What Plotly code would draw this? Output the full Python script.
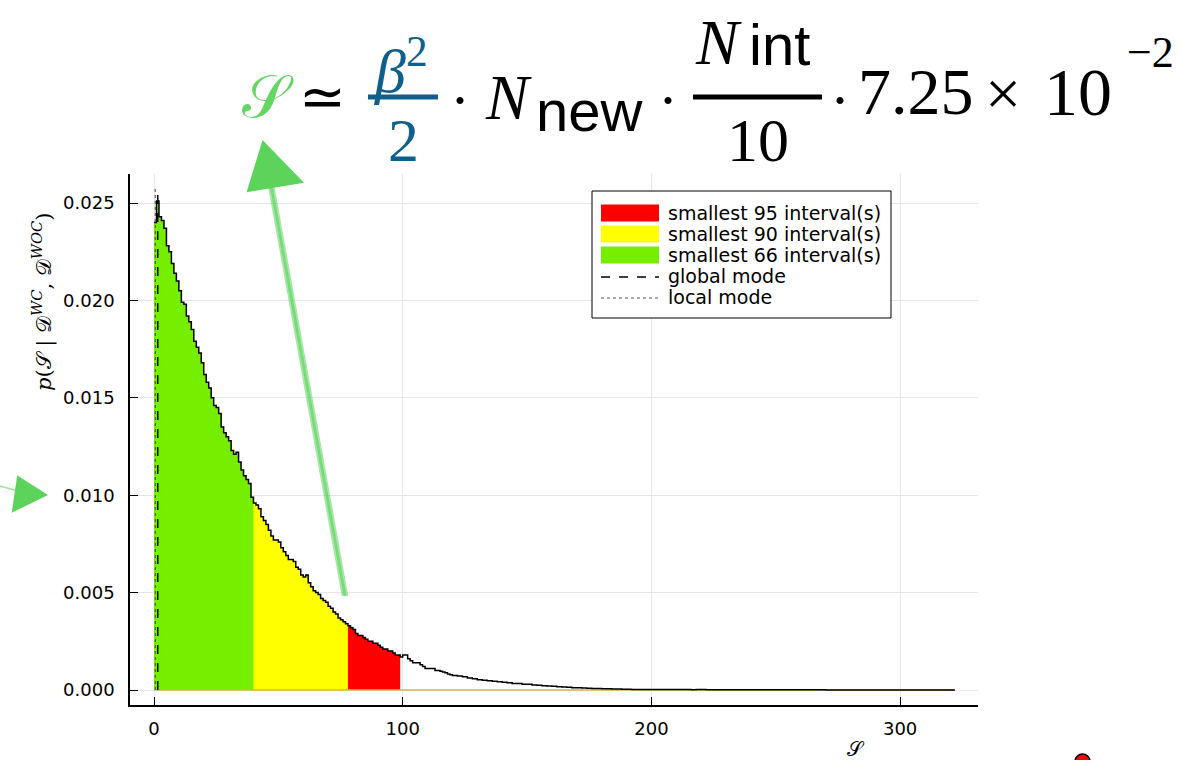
import numpy as np
import plotly.graph_objects as go

# Posterior density of S, histogram heights
# unit-width bins on [0, 120)
density_fine = [
    0.0240, 0.0251, 0.0243, 0.0241, 0.0237, 0.0228, 0.0225, 0.0219, 0.0214, 0.0210,
    0.0205, 0.0199, 0.0198, 0.0192, 0.0189, 0.0185, 0.0179, 0.0176, 0.0173, 0.0168,
    0.0162, 0.0158, 0.0155, 0.0150, 0.0146, 0.0145, 0.0142, 0.0135, 0.0132, 0.0130,
    0.0128, 0.0123, 0.0121, 0.0122, 0.0117, 0.0113, 0.0110, 0.0108, 0.0106, 0.0099,
    0.0096, 0.0095, 0.0093, 0.0089, 0.0087, 0.0085, 0.0082, 0.0079, 0.0077, 0.0077,
    0.0076, 0.0073, 0.0071, 0.0069, 0.0067, 0.0067, 0.0066, 0.0063, 0.0062, 0.0059,
    0.0058, 0.0059, 0.0055, 0.0053, 0.0051, 0.0050, 0.0049, 0.0047, 0.0046, 0.0045,
    0.0043, 0.0042, 0.0040, 0.0039, 0.0037, 0.0036, 0.0035, 0.0034, 0.0033, 0.0032,
    0.0031, 0.0029, 0.0028, 0.0028, 0.0027, 0.0026, 0.0025, 0.0025, 0.0024, 0.0024,
    0.0023, 0.0022, 0.0021, 0.0021, 0.0020, 0.0020, 0.0019, 0.0018, 0.0018, 0.0017,
    0.0018, 0.0018, 0.0016, 0.0015, 0.0014, 0.0014, 0.0014, 0.0013, 0.0012, 0.0011,
    0.0011, 0.0011, 0.0011, 0.0010, 0.0010, 0.00096, 0.00092, 0.00088, 0.00082, 0.00078,
]
# width-2 bins on [120, 322)
density_coarse = [
    0.00075, 0.00072, 0.00068, 0.00062, 0.00058, 0.00053, 0.00050, 0.00047, 0.00045, 0.00042,
    0.00040, 0.00037, 0.00034, 0.00033, 0.00030, 0.00029, 0.00026, 0.00025, 0.00022, 0.00020,
    0.00019, 0.00017, 0.00015, 0.00014, 0.00012, 0.00011, 0.00010, 0.00009, 0.00008, 0.00008,
    0.00007, 0.00006, 0.00005, 0.00005, 0.00004, 0.00004, 0.00003, 0.00003, 0.00003, 0.00002,
    0.00002, 0.00002, 0.00002, 0.00002, 0.00002, 0.00002, 0.00002, 0.00002, 0.00001, 0.00002,
    0.00002, 0.00001, 0.00001, 0.00001, 0.00001, 0.00001, 0.00001, 0.00001, 0.00001, 0.00001,
    0.00001, 0.00001, 0.00001, 0.00001, 0.00001, 0.00001, 0.00001, 0.00001, 0.00001, 0.00001,
    0.00001, 0.00001, 0.00001, 0.00001, 0.00001, 0.000005, 0.000005, 0.000005, 0.000005, 0.000005,
    0.000005, 0.000005, 0.000005, 0.000005, 0.000005, 0.000005, 0.000005, 0.000005, 0.000005, 0.000005,
    0.000005, 0.000005, 0.000005, 0.000005, 0.000005, 0.000005, 0.000005, 0.000005, 0.000005, 0.000005,
    0.000005,
]

# smallest credible intervals (upper bounds, lower bound is 0)
interval_labels = ["smallest 95 interval(s)", "smallest 90 interval(s)", "smallest 66 interval(s)"]
interval_upper = [99, 78, 40]
interval_colors = ["#FF0000", "#FFFF00", "#76EE00"]

global_mode = 1.5
local_mode = 0.5
mode_top = 0.0258

x_ticks = [0, 100, 200, 300]
y_ticks = [0.0, 0.005, 0.010, 0.015, 0.020, 0.025]

edges = np.concatenate([np.arange(0, 121, 1.0), np.arange(122, 323, 2.0)])
heights = np.array(density_fine + density_coarse)


def step_xy(lo, hi):
    keep = (edges[:-1] >= lo) & (edges[1:] <= hi)
    idx = np.where(keep)[0]
    xs = list(edges[idx]) + [edges[idx[-1] + 1]]
    ys = list(heights[idx]) + [heights[idx[-1]]]
    return xs, ys


fig = go.Figure()

for upper, col in zip(interval_upper, interval_colors):
    xs, ys = step_xy(0, upper)
    fig.add_trace(go.Scatter(x=xs, y=ys, mode="lines", line=dict(width=0, shape="hv"),
                             fill="tozeroy", fillcolor=col, showlegend=False, hoverinfo="skip"))

fig.add_trace(go.Scatter(x=[edges[0], edges[-1]], y=[0, 0], mode="lines",
                         line=dict(color="#d9b648", width=1.5), showlegend=False, hoverinfo="skip"))

xs, ys = step_xy(0, edges[-1])
fig.add_trace(go.Scatter(x=xs, y=ys, mode="lines", line=dict(color="black", width=1.5, shape="hv"),
                         showlegend=False))

fig.add_trace(go.Scatter(x=[global_mode, global_mode], y=[0, mode_top], mode="lines",
                         line=dict(color="black", width=1.5, dash="dash"), showlegend=False))
fig.add_trace(go.Scatter(x=[local_mode, local_mode], y=[0, mode_top], mode="lines",
                         line=dict(color="#444444", width=1, dash="dot"), showlegend=False))

# plot area in pixels
L, R, T, B = 130, 978, 174, 705
W, H = 1181, 760


def fx(p):
    return (p - L) / (R - L)


def fy(p):
    return (B - p) / (B - T)


shapes = []
annotations = []

# legend box
shapes.append(dict(type="rect", xref="paper", yref="paper", x0=fx(592), x1=fx(891), y0=fy(318), y1=fy(191),
                   line=dict(color="black", width=1), fillcolor="white", layer="above"))
legend_rows = [213, 234, 255, 276, 297]
for row, lab, col in zip(legend_rows, interval_labels, interval_colors):
    shapes.append(dict(type="rect", xref="paper", yref="paper", x0=fx(601), x1=fx(659),
                       y0=fy(row + 8.5), y1=fy(row - 8.5), line=dict(width=0), fillcolor=col, layer="above"))
shapes.append(dict(type="line", xref="paper", yref="paper", x0=fx(601), x1=fx(659), y0=fy(277), y1=fy(277),
                   line=dict(color="black", width=1.3, dash="dash"), layer="above"))
shapes.append(dict(type="line", xref="paper", yref="paper", x0=fx(601), x1=fx(659), y0=fy(298), y1=fy(298),
                   line=dict(color="#555555", width=1, dash="dot"), layer="above"))
for row, lab in zip(legend_rows, interval_labels + ["global mode", "local mode"]):
    annotations.append(dict(text=lab, xref="paper", yref="paper", x=fx(666), y=fy(row), xanchor="left",
                            yanchor="middle", showarrow=False, font=dict(family="DejaVu Sans", size=19, color="black")))

# hand-drawn green arrows
GREEN = "rgb(92,212,92)"
for dx, op in ((-2, 0.55), (0, 0.8), (2, 0.55)):
    shapes.append(dict(type="line", xref="paper", yref="paper", x0=fx(345 + dx), y0=fy(596), x1=fx(271 + dx),
                       y1=fy(185), line=dict(color=GREEN, width=2.5), opacity=op))
shapes.append(dict(type="path", xref="paper", yref="paper",
                   path=f"M {fx(263)} {fy(142)} L {fx(302)} {fy(182)} L {fx(248)} {fy(191)} Z",
                   fillcolor=GREEN, line=dict(color=GREEN, width=2)))
shapes.append(dict(type="path", xref="paper", yref="paper",
                   path=f"M {fx(18)} {fy(477)} L {fx(46)} {fy(495)} L {fx(13)} {fy(511)} Z",
                   fillcolor=GREEN, line=dict(color=GREEN, width=2)))
shapes.append(dict(type="line", xref="paper", yref="paper", x0=fx(0), y0=fy(486), x1=fx(18), y1=fy(491),
                   line=dict(color=GREEN, width=1.5), opacity=0.6))

# small red marker at the bottom-right edge
shapes.append(dict(type="circle", xref="paper", yref="paper", x0=fx(1075), x1=fx(1090), y0=fy(769), y1=fy(754),
                   fillcolor="red", line=dict(color="black", width=1.5)))

# formula header
TEAL = "#0f5f8c"
SERIF = "Liberation Serif"
SANS = "Liberation Sans"


def txt(s, x, y, size, family=SERIF, color="black", anchor="center"):
    annotations.append(dict(text=s, xref="paper", yref="paper", x=fx(x), y=fy(y), xanchor=anchor,
                            yanchor="middle", showarrow=False, font=dict(family=family, size=size, color=color)))


txt("𝒮", 268, 96, 60, family="DejaVu Sans", color="rgb(100,214,100)")
txt("≃", 322, 96, 56, family="DejaVu Sans")
txt("<i>β</i><sup>2</sup>", 401, 66, 62, color=TEAL)
shapes.append(dict(type="line", xref="paper", yref="paper", x0=fx(368), x1=fx(438), y0=fy(97), y1=fy(97),
                   line=dict(color=TEAL, width=5)))
txt("2", 403, 140, 62, color=TEAL)
txt("·", 460, 100, 60)
txt("<i>N</i>", 508, 97, 64)
txt("new", 590, 110, 58, family=SANS)
txt("·", 668, 100, 60)
txt("<i>N</i>", 718, 42, 64)
txt("int", 779, 45, 58, family=SANS)
shapes.append(dict(type="line", xref="paper", yref="paper", x0=fx(693), x1=fx(822), y0=fy(97), y1=fy(97),
                   line=dict(color="black", width=5)))
txt("10", 758, 140, 62)
txt("·", 840, 100, 60)
txt("7.25", 856, 92, 66, anchor="left")
txt("×", 1003, 94, 64)
txt("10", 1078, 92, 68)
txt("−2", 1125, 52, 44, anchor="left")

# axis titles
annotations.append(dict(text="<i>p</i>(𝒮 | 𝒟<sup><i>WC</i></sup>, 𝒟<sup><i>WOC</i></sup>)", xref="paper",
                        yref="paper", x=fx(42), y=fy(302), textangle=-90, showarrow=False, xanchor="center",
                        yanchor="middle", font=dict(family="DejaVu Serif", size=21, color="black")))
annotations.append(dict(text="𝒮", xref="paper", yref="paper", x=fx(856), y=fy(749), showarrow=False,
                        xanchor="center", yanchor="middle", font=dict(family="DejaVu Serif", size=20, color="black")))

xmin = (L - 154) / 2.487
xmax = (R - 154) / 2.487
ymin = (690 - B) / 19480
ymax = (690 - T) / 19480

axis_common = dict(showline=True, linecolor="black", linewidth=1.5, ticks="inside", ticklen=8, tickwidth=1.3,
                   tickcolor="black", showgrid=True, gridcolor="#e6e6e6", gridwidth=1, zeroline=False,
                   mirror=False, tickfont=dict(family="DejaVu Sans", size=18, color="black"))

fig.update_layout(
    width=W, height=H,
    margin=dict(l=L, r=W - R, t=T, b=H - B, pad=0),
    paper_bgcolor="white", plot_bgcolor="white",
    showlegend=False,
    xaxis=dict(range=[xmin, xmax], tickvals=x_ticks, ticktext=[str(v) for v in x_ticks],
               ticklabelstandoff=7, **axis_common),
    yaxis=dict(range=[ymin, ymax], tickvals=y_ticks, ticktext=[f"{v:.3f}" for v in y_ticks],
               ticklabelstandoff=10, **axis_common),
    shapes=shapes,
    annotations=annotations,
)

fig.write_html("out.html")
